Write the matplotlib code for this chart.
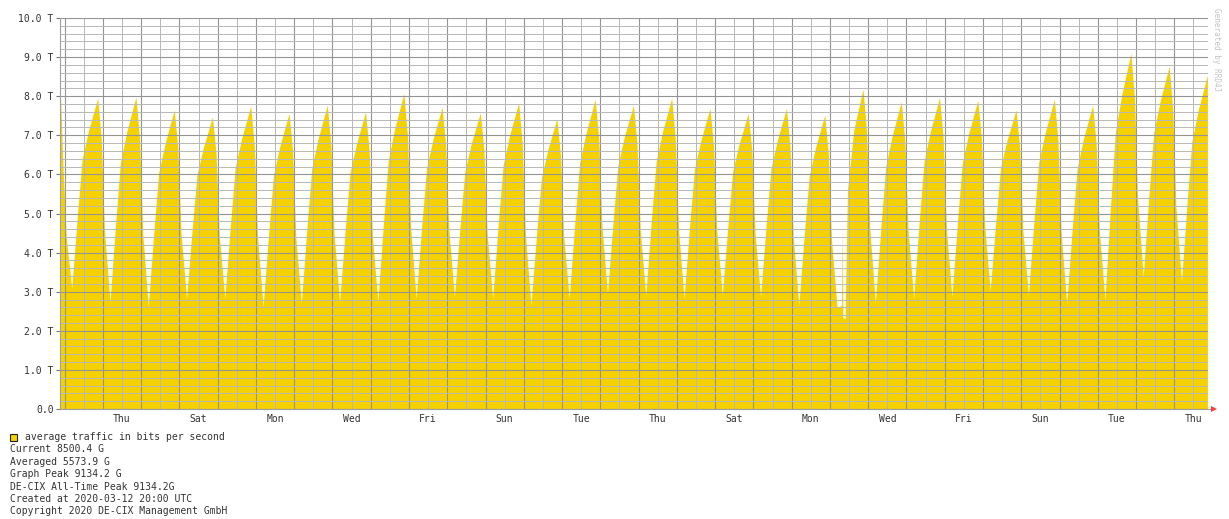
import numpy as np
import matplotlib
matplotlib.use("Agg")
import matplotlib.pyplot as plt
from matplotlib.patches import Rectangle
from matplotlib.lines import Line2D

nan = float("nan")

# ---------------- data ----------------
# x axis counts days from Thu 2020-02-13 00:00; labels sit at noon every 2nd day
day_labels = ["Thu", "Sat", "Mon", "Wed", "Fri", "Sun", "Tue", "Thu",
              "Sat", "Mon", "Wed", "Fri", "Sun", "Tue", "Thu"]
y_tick_labels = ["0.0", "1.0 T", "2.0 T", "3.0 T", "4.0 T", "5.0 T",
                 "6.0 T", "7.0 T", "8.0 T", "9.0 T", "10.0 T"]

# leading samples, Tue 2020-02-11 evening (hour of day, Tbit/s)
lead_hours = [21.3, 22.2, 23.2, 25.0]
lead_T = [8.15, 7.10, 6.00, 4.40]

# daily samples, first day = Wed 2020-02-12, last = Thu 2020-03-12
# hour of day of each column (25.0 = 01:00 of the following day)
sample_hours = [4.5, 8.0, 11.0, 15.0, 20.75, 23.0, 25.0]
trough_T = [3.09, 2.74, 2.62, 2.83, 2.83, 2.62, 2.70, 2.74, 2.74, 2.83,
            2.87, 2.83, 2.66, 2.83, 2.96, 2.90, 2.83, 2.92, 2.87, 2.66,
            2.60, 2.71, 2.83, 2.87, 3.02, 2.92, 2.70, 2.80, 3.38, 3.26]
morning_T = [4.94, 4.73, 4.53, 4.59, 4.70, 4.50, 4.63, 4.59, 4.77, 4.69,
             4.66, 4.73, 4.47, 4.76, 4.79, 4.82, 4.68, 4.68, 4.70, 4.51,
             nan, 4.67, 4.78, 4.78, 4.78, 4.82, 4.63, 5.19, 5.43, 5.27]
noon_T = [6.39, 6.30, 6.04, 5.99, 6.18, 5.98, 6.15, 6.04, 6.36, 6.16,
          6.07, 6.23, 5.90, 6.29, 6.23, 6.33, 6.13, 6.08, 6.15, 5.96,
          5.60, 6.21, 6.33, 6.29, 6.17, 6.32, 6.15, 7.08, 7.05, 6.85]
afternoon_T = [7.12, 7.09, 6.79, 6.68, 6.91, 6.72, 6.91, 6.77, 7.16, 6.89,
               6.78, 6.98, 6.62, 7.05, 6.95, 7.09, 6.86, 6.77, 6.87, 6.69,
               7.15, 6.98, 7.10, 7.04, 6.86, 7.07, 6.91, 8.03, 7.85, 7.64]
peak_T = [7.95, 7.98, 7.65, 7.47, 7.75, 7.56, 7.77, 7.60, 8.07, 7.72,
          7.58, 7.83, 7.43, 7.92, 7.77, 7.95, 7.69, 7.56, 7.69, 7.52,
          8.18, 7.86, 7.97, 7.90, 7.65, 7.92, 7.77, 9.10, 8.77, 8.54]
late_T = [6.91, 6.91, 6.69, 6.54, 6.72, 6.59, 6.76, 6.63, 7.02, 6.75,
          6.63, 6.80, 6.51, 6.93, 6.80, 6.93, 6.74, 6.62, 6.68, 6.54,
          7.09, 6.85, 6.95, 6.92, 6.70, 6.88, 6.78, 7.96, 7.67, nan]
night_T = [4.56, 4.50, 4.52, 4.45, 4.42, 4.40, 4.50, 4.44, 4.66, 4.57,
           4.49, 4.47, 4.44, 4.70, 4.60, 4.62, 4.59, 4.51, 4.42, 4.32,
           4.62, 4.59, 4.66, 4.73, 4.58, 4.53, 4.54, 5.38, 5.19, nan]

# short glitch on Tue 2020-03-03 morning (list day 20)
glitch_day = 20
glitch_hours = [7.3, 7.7, 8.1, 9.5]
glitch_T = [2.65, 4.70, 2.35, 2.30]

legend_title = "average traffic in bits per second"
legend_lines = ["Current 8500.4 G",
                "Averaged 5573.9 G",
                "Graph Peak 9134.2 G",
                "DE-CIX All-Time Peak 9134.2G",
                "Created at 2020-03-12 20:00 UTC",
                "Copyright 2020 DE-CIX Management GmbH"]
watermark = "Generated by RRD4J"

# ---------------- build series ----------------
first_day = -1          # Wed 2020-02-12 relative to Thu 2020-02-13
t, v = [], []
for h, val in zip(lead_hours, lead_T):
    t.append(first_day - 1 + h / 24.0)
    v.append(val)
cols = [trough_T, morning_T, noon_T, afternoon_T, peak_T, late_T, night_T]
for i in range(len(trough_T)):
    d0 = first_day + i
    for h, col in zip(sample_hours, cols):
        if not np.isnan(col[i]):
            t.append(d0 + h / 24.0)
            v.append(col[i])
for h, val in zip(glitch_hours, glitch_T):
    t.append(first_day + glitch_day + h / 24.0)
    v.append(val)
t = np.array(t)
v = np.array(v)
order = np.argsort(t)
t, v = t[order], v[order]

# ---------------- figure ----------------
W, H = 1229, 519
fig = plt.figure(figsize=(W / 100, H / 100), dpi=100)
fig.patch.set_facecolor("white")
ax = fig.add_axes([60 / W, 1 - 409 / H, (1208 - 60) / W, (409 - 18) / H])

yellow = "#F5D100"
ax.fill_between(t, 0, v, color=yellow, linewidth=0, zorder=1)

XMIN, XMAX = -1.12, 28.88
ax.set_xticks(np.arange(-1, 28.9, 1.0))
ax.set_xticks(np.arange(-1, 28.9, 0.5), minor=True)
ax.set_yticks(np.arange(0, 10.01, 1.0))
ax.set_yticks(np.arange(0, 10.01, 0.2), minor=True)
ax.set_yticklabels(y_tick_labels)
ax.set_xticklabels([])
ax.set_xlim(XMIN, XMAX)
ax.set_ylim(0, 10)

ax.set_axisbelow(False)
ax.grid(which="minor", color=(0.72, 0.72, 0.72, 0.42), linewidth=0.7)
ax.grid(which="major", color=(0.58, 0.58, 0.58, 0.50), linewidth=0.8)

mono = "DejaVu Sans Mono"
fs = 7.0
ax.tick_params(axis="y", which="major", length=3, width=0.8, color="#777777",
               labelsize=fs, labelcolor="#333333", pad=1.5)
ax.tick_params(axis="y", which="minor", length=0)
ax.tick_params(axis="x", which="both", length=0)
for lab in ax.get_yticklabels():
    lab.set_family(mono)

for s in ["top", "right"]:
    ax.spines[s].set_visible(False)
for s in ["left", "bottom"]:
    ax.spines[s].set_color("#a0a0a0")
    ax.spines[s].set_linewidth(0.8)
    ax.spines[s].set_zorder(3)

# day labels at noon every second day
for k, lab in enumerate(day_labels):
    ax.text(0.5 + 2 * k, -0.012, lab, transform=ax.get_xaxis_transform(),
            ha="center", va="top", fontsize=fs, family=mono, color="#333333")

# red arrow at end of x axis
ax.add_line(Line2D([1.0, 1.005], [0, 0], transform=ax.transAxes,
                   color="#a0a0a0", linewidth=0.8, clip_on=False))
ax.plot([1.0055], [0], marker=">", markersize=4, color="#ff3b3b",
        transform=ax.transAxes, clip_on=False, markeredgewidth=0)

# vertical watermark
fig.text(1216 / W, 1 - 8 / H, watermark, rotation=270, ha="center", va="top",
         fontsize=5.5, family=mono, color="#c4c4c4")

# legend block
fig.patches.append(Rectangle((10 / W, 1 - 441 / H), 7 / W, 7 / H,
                             transform=fig.transFigure, facecolor=yellow,
                             edgecolor="#222222", linewidth=0.8))
fig.text(25 / W, 1 - 437 / H, legend_title, ha="left", va="center",
         fontsize=fs, family=mono, color="#333333")
for k, line in enumerate(legend_lines):
    fig.text(10 / W, 1 - (449.4 + 12.4 * k) / H, line, ha="left", va="center",
             fontsize=fs, family=mono, color="#333333")

fig.savefig("out.png", dpi=100, facecolor="white")
